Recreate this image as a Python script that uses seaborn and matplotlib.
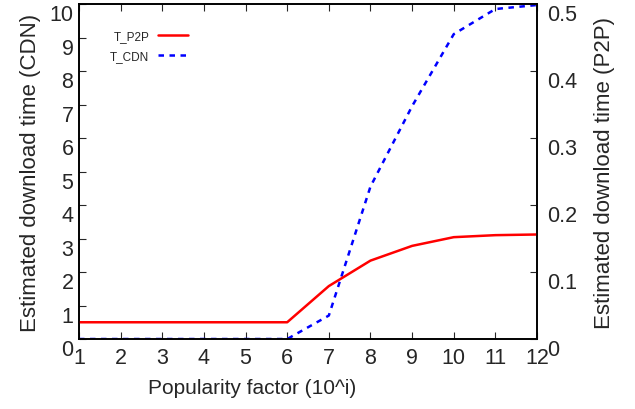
import numpy as np
import pandas as pd
import matplotlib
matplotlib.use("Agg")
import matplotlib.pyplot as plt
import matplotlib.transforms as mtransforms
import seaborn as sns

# values
popularity = [1, 2, 3, 4, 5, 6, 7, 8, 9, 10, 11, 12]
t_cdn = [0.0, 0.0, 0.0, 0.0, 0.0, 0.0, 0.7, 4.55, 6.95, 9.1, 9.85, 9.97]
t_p2p = [0.025, 0.025, 0.025, 0.025, 0.025, 0.025, 0.079, 0.117, 0.139, 0.152, 0.155, 0.156]

sns.set_style("ticks")
plt.rcParams['font.family'] = ['Liberation Sans', 'DejaVu Sans']

df = pd.DataFrame({'x': popularity, 'cdn': t_cdn, 'p2p': t_p2p})

fig = plt.figure(figsize=(6.35, 4.1), dpi=100)
ax = fig.add_axes([0.1244, 0.1707, 0.7213, 0.8171])
ax2 = ax.twinx()

sns.lineplot(data=df, x='x', y='p2p', ax=ax2, color='#ff0000', linewidth=1.8,
             label='T_P2P', legend=False)
sns.lineplot(data=df, x='x', y='cdn', ax=ax, color='#0000ff', linewidth=1.8,
             linestyle=(0, (2.2, 2.2)), label='T_CDN', legend=False)

ax.set_xlim(1, 12)
ax.set_ylim(0, 10)
ax2.set_ylim(0, 0.5)
ax.set_xticks(popularity)
ax.set_yticks(range(0, 11))
ax2.set_yticks([0, 0.1, 0.2, 0.3, 0.4, 0.5])
ax2.set_yticklabels(['0', '0.1', '0.2', '0.3', '0.4', '0.5'])

ax.set_xlabel('Popularity factor (10^i)', fontsize=15)
ax.xaxis.set_label_coords(0.378, -0.115)
ax.set_ylabel('Estimated download time (CDN)', fontsize=16, labelpad=6)
ax2.set_ylabel('Estimated download time (P2P)', fontsize=16, labelpad=11.5)

ax.tick_params(axis='x', direction='in', top=True, length=5, labelsize=15.5, pad=6)
ax.tick_params(axis='y', direction='in', length=5, labelsize=15.5, pad=4)
ax2.tick_params(axis='y', direction='in', length=5, labelsize=15.5, pad=7.5)

# y tick labels sit a little below their ticks, as in the reference
shift = mtransforms.ScaledTranslation(0, -6 / 72, fig.dpi_scale_trans)
for lab in ax.get_yticklabels() + ax2.get_yticklabels():
    lab.set_transform(lab.get_transform() + shift)

for a in (ax, ax2):
    for s in a.spines.values():
        s.set_visible(True)
        s.set_linewidth(1.2)
        s.set_color('black')

h1, l1 = ax2.get_legend_handles_labels()
h2, l2 = ax.get_legend_handles_labels()
leg = ax.legend(h1 + h2, l1 + l2, loc='upper left', bbox_to_anchor=(0.045, 0.955),
                frameon=False, fontsize=8.5, markerfirst=False, handlelength=2.6,
                handletextpad=0.7, labelspacing=0.75)

fig.savefig('out.png', dpi=100)
